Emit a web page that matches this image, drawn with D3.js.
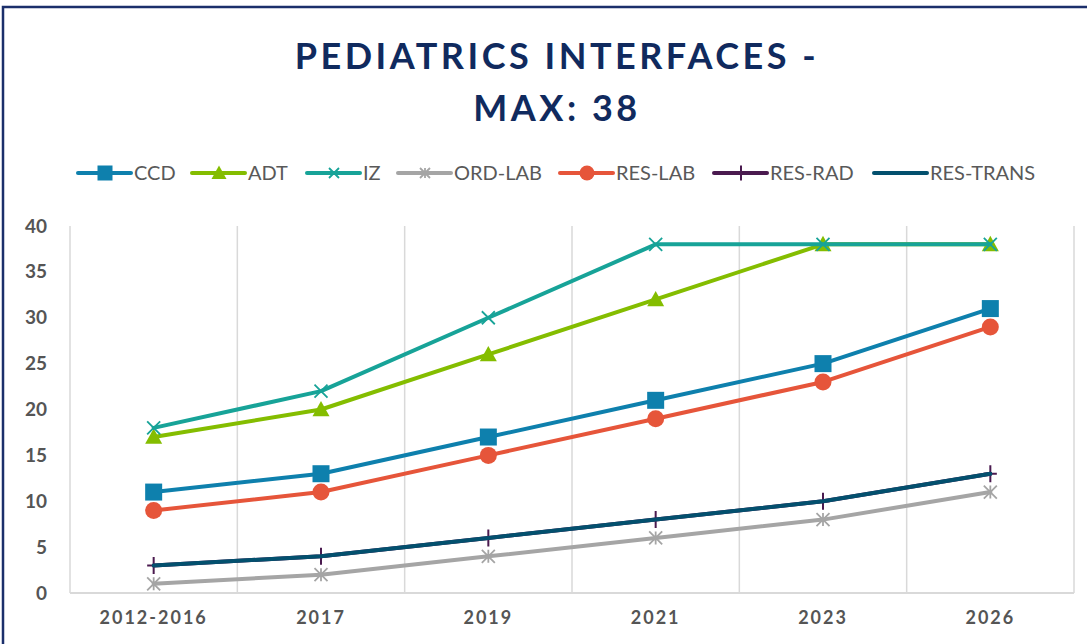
<!DOCTYPE html>
<html>
<head>
<meta charset="utf-8">
<script src="https://cdn.jsdelivr.net/npm/d3@7"></script>
<style>
  html, body { margin: 0; padding: 0; background: #fff; }
  svg { display: block; font-family: Lato, "Open Sans", sans-serif; }
</style>
</head>
<body>
<svg id="chart" width="1087" height="644"></svg>
<script>
// data
var categories = ["2012-2016", "2017", "2019", "2021", "2023", "2026"];
var ccd = [11, 13, 17, 21, 25, 31];
var adt = [17, 20, 26, 32, 38, 38];
var iz = [18, 22, 30, 38, 38, 38];
var ordLab = [1, 2, 4, 6, 8, 11];
var resLab = [9, 11, 15, 19, 23, 29];
var resRad = [3, 4, 6, 8, 10, 13];
var resTrans = [3, 4, 6, 8, 10, 13];
var yTicks = [0, 5, 10, 15, 20, 25, 30, 35, 40];

var series = [
    {name: "CCD", values: ccd, color: "#0e80ad", marker: "square"},
    {name: "ADT", values: adt, color: "#84bd00", marker: "triangle"},
    {name: "IZ", values: iz, color: "#17a398", marker: "x"},
    {name: "ORD-LAB", values: ordLab, color: "#a5a5a5", marker: "star"},
    {name: "RES-LAB", values: resLab, color: "#e6553a", marker: "circle"},
    {name: "RES-RAD", values: resRad, color: "#4a1a4f", marker: "plus"},
    {name: "RES-TRANS", values: resTrans, color: "#03506e", marker: "none"}
];

var svg = d3.select("#chart");
var plotLeft = 70, plotRight = 1074, plotTop = 226, plotBottom = 593;

// frame (cropped on right/bottom)
svg.append("path")
    .attr("d", "M3,644 V7 H1087")
    .attr("fill", "none")
    .attr("stroke", "#1b2f6b")
    .attr("stroke-width", 2.5);

// title
var title = svg.append("text")
    .attr("text-anchor", "middle")
    .attr("fill", "#102a5e")
    .attr("font-weight", "bold")
    .attr("font-size", 36)
    .attr("letter-spacing", "3.5px");
title.append("tspan").attr("x", 557).attr("y", 69).text("PEDIATRICS INTERFACES -");
title.append("tspan").attr("x", 557).attr("y", 121).text("MAX: 38");

var x = d3.scaleBand().domain(categories).range([plotLeft, plotRight]);
var y = d3.scaleLinear().domain([0, 40]).range([plotBottom, plotTop]);

// vertical gridlines at band edges
var edges = categories.map(function (c) { return x(c); }).concat([plotRight]);
svg.append("g").selectAll("line")
    .data(edges)
    .enter().append("line")
    .attr("x1", function (d) { return d; })
    .attr("x2", function (d) { return d; })
    .attr("y1", plotTop)
    .attr("y2", plotBottom)
    .attr("stroke", "#d9d9d9")
    .attr("stroke-width", 1.5);

// bottom axis line
svg.append("line")
    .attr("x1", plotLeft).attr("x2", plotRight)
    .attr("y1", plotBottom).attr("y2", plotBottom)
    .attr("stroke", "#d9d9d9").attr("stroke-width", 2);

// y axis labels
var yAxis = svg.append("g")
    .attr("transform", "translate(47,0)")
    .call(d3.axisLeft(y).tickValues(yTicks).tickSize(0).tickPadding(0));
yAxis.select(".domain").remove();
yAxis.selectAll("text")
    .attr("fill", "#555")
    .attr("font-size", 19)
    .attr("font-weight", "bold")
    .attr("font-family", "Lato, 'Open Sans', sans-serif");

// x axis labels
var xAxis = svg.append("g")
    .attr("transform", "translate(0," + (plotBottom + 18) + ")")
    .call(d3.axisBottom(x).tickSize(0).tickPadding(0));
xAxis.select(".domain").remove();
xAxis.selectAll("text")
    .attr("fill", "#555")
    .attr("font-size", 18)
    .attr("font-weight", "bold")
    .attr("letter-spacing", "2px")
    .attr("font-family", "Lato, 'Open Sans', sans-serif");

function cx(i) { return x(categories[i]) + x.bandwidth() / 2; }

function drawMarker(g, type, color, px, py, s) {
    if (type === "square") {
        g.append("rect").attr("x", px - s / 2).attr("y", py - s / 2)
            .attr("width", s).attr("height", s).attr("fill", color);
    } else if (type === "circle") {
        g.append("circle").attr("cx", px).attr("cy", py).attr("r", s / 2).attr("fill", color);
    } else if (type === "triangle") {
        var t = s / 2;
        g.append("path").attr("d", "M" + px + "," + (py - t) + "L" + (px + t) + "," + (py + t * 0.8) +
            "L" + (px - t) + "," + (py + t * 0.8) + "Z").attr("fill", color);
    } else if (type === "x") {
        var h = s / 2 - 1;
        g.append("path").attr("d", "M" + (px - h) + "," + (py - h) + "L" + (px + h) + "," + (py + h) +
            "M" + (px - h) + "," + (py + h) + "L" + (px + h) + "," + (py - h))
            .attr("stroke", color).attr("stroke-width", 1.8);
    } else if (type === "star") {
        var k = s / 2 - 1;
        g.append("path").attr("d", "M" + (px - k) + "," + (py - k) + "L" + (px + k) + "," + (py + k) +
            "M" + (px - k) + "," + (py + k) + "L" + (px + k) + "," + (py - k) +
            "M" + px + "," + (py - k) + "L" + px + "," + (py + k))
            .attr("stroke", color).attr("stroke-width", 1.8);
    } else if (type === "plus") {
        var p = s / 2;
        g.append("path").attr("d", "M" + px + "," + (py - p) + "L" + px + "," + (py + p) +
            "M" + (px - p + 2) + "," + py + "L" + (px + p - 2) + "," + py)
            .attr("stroke", color).attr("stroke-width", 2);
    }
}

var line = d3.line()
    .x(function (d, i) { return cx(i); })
    .y(function (d) { return y(d); });

series.forEach(function (s) {
    var g = svg.append("g").attr("class", "series");
    g.append("path")
        .datum(s.values)
        .attr("d", line)
        .attr("fill", "none")
        .attr("stroke", s.color)
        .attr("stroke-width", 4)
        .attr("stroke-linejoin", "round")
        .attr("stroke-linecap", "round");
    s.values.forEach(function (v, i) {
        drawMarker(g, s.marker, s.color, cx(i), y(v), s.marker === "x" || s.marker === "star" ? 15 : 17);
    });
});

// legend
var legendX = [78, 192, 307, 398, 560, 714, 874];
var legend = svg.append("g");
series.forEach(function (s, i) {
    var lx = legendX[i], ly = 173;
    legend.append("line")
        .attr("x1", lx).attr("x2", lx + 53)
        .attr("y1", ly).attr("y2", ly)
        .attr("stroke", s.color).attr("stroke-width", 4).attr("stroke-linecap", "round");
    drawMarker(legend, s.marker, s.color, lx + 27, ly, s.marker === "x" || s.marker === "star" ? 12 : 15);
    legend.append("text")
        .attr("x", lx + 56).attr("y", ly + 7)
        .attr("fill", "#595959")
        .attr("font-size", 20)
        .text(s.name);
});
</script>
</body>
</html>
